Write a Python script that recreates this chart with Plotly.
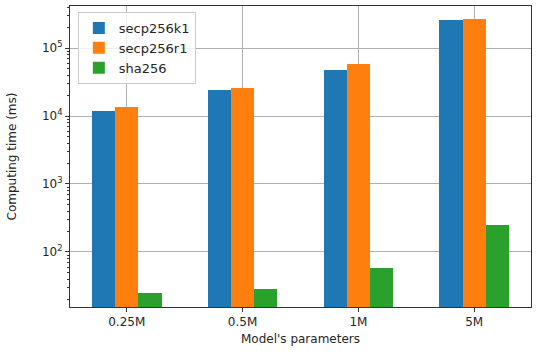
import plotly.graph_objects as go
import numpy as np

categories = ["0.25M", "0.5M", "1M", "5M"]
secp256k1 = [11700, 23800, 47500, 255000]
secp256r1 = [13600, 25800, 57500, 267000]
sha256 = [24.9, 28.6, 58.2, 247]
series_names = ["secp256k1", "secp256r1", "sha256"]
colors = ["#1f77b4", "#ff7f0e", "#2ca02c"]
ytick_vals = [100, 1000, 10000, 100000]
ytick_text = ["10<sup>2</sup>", "10<sup>3</sup>", "10<sup>4</sup>", "10<sup>5</sup>"]

w = 0.2
x = np.arange(len(categories))
fig = go.Figure()
for i, (name, vals) in enumerate(zip(series_names, [secp256k1, secp256r1, sha256])):
    fig.add_trace(go.Bar(
        x=x + (i - 1) * w, y=vals, width=w, name=name,
        marker=dict(color=colors[i], line=dict(width=0)),
    ))

minor_vals = [m * 10 ** e for e in range(1, 6) for m in range(2, 10)]
minor_vals = [v for v in minor_vals if 15.5 < v < 415000]

fig.update_layout(
    width=540, height=352,
    margin=dict(l=70, r=9, t=6, b=45),
    paper_bgcolor="white", plot_bgcolor="white",
    font=dict(family="DejaVu Sans", size=12, color="#262626"),
    bargap=0,
    showlegend=True,
    legend=dict(
        x=0.017, y=0.98, xanchor="left", yanchor="top",
        bgcolor="rgba(255,255,255,0.8)", bordercolor="#cccccc", borderwidth=1,
        font=dict(size=13), tracegroupgap=1, itemwidth=30,
    ),
    xaxis=dict(
        automargin=False,
        range=[-0.49, 3.49],
        tickmode="array", tickvals=list(x), ticktext=categories,
        showgrid=True, gridcolor="#b0b0b0", gridwidth=1,
        ticks="outside", ticklen=4, tickcolor="#333333",
        showline=True, linecolor="#333333", linewidth=1, mirror=True,
        title=dict(text="Model's parameters", standoff=6, font=dict(size=12)),
        zeroline=False,
    ),
    yaxis=dict(
        automargin=False,
        type="log",
        range=[np.log10(15.5), np.log10(415000)],
        tickmode="array", tickvals=ytick_vals, ticktext=ytick_text,
        showgrid=True, gridcolor="#b0b0b0", gridwidth=1,
        ticks="outside", ticklen=4, tickcolor="#333333",
        minor=dict(tickmode="array", tickvals=minor_vals, ticks="outside",
                   ticklen=2, tickcolor="#333333", showgrid=False),
        showline=True, linecolor="#333333", linewidth=1, mirror=True,
        title=dict(text="Computing time (ms)", standoff=22, font=dict(size=12)),
        zeroline=False,
    ),
)

fig.write_html("out.html", config={"displayModeBar": False},
               post_script="document.body.style.margin='0';")
